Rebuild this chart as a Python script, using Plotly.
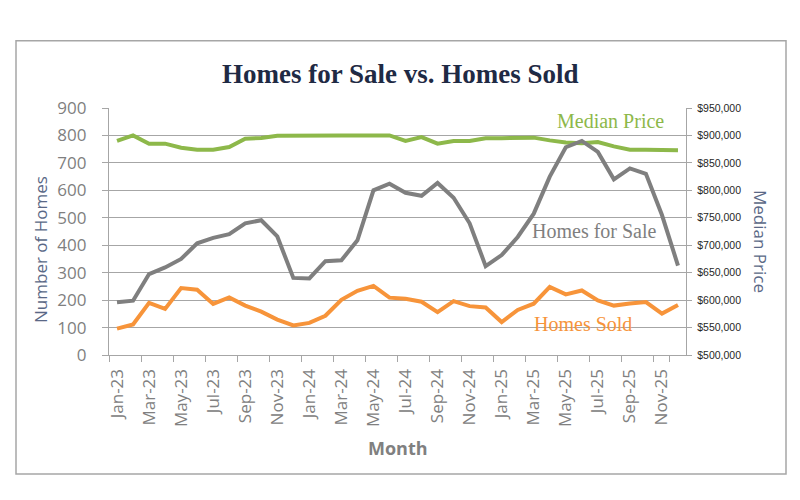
import plotly.graph_objects as go

months = [f"{m}-{y}" for y in ["23", "24", "25"] for m in
          ["Jan", "Feb", "Mar", "Apr", "May", "Jun", "Jul", "Aug", "Sep", "Oct", "Nov", "Dec"]]

homes_for_sale = [192, 198, 295, 319, 350, 407, 427, 440, 480, 491, 432, 281,
                  279, 342, 345, 418, 600, 624, 591, 580, 627, 573, 480, 324,
                  364, 430, 515, 650, 757, 780, 740, 640, 680, 660, 510, 326]

homes_sold = [96, 111, 190, 168, 244, 238, 186, 210, 180, 158, 129, 108,
              117, 143, 201, 234, 252, 209, 205, 194, 156, 196, 178, 173,
              120, 164, 187, 248, 221, 235, 199, 180, 188, 193, 151, 182]

median_price = [890000, 900000, 885000, 885000, 877500, 874000, 874000, 879000, 894000, 895500, 899500, 900000,
                900000, 900000, 900000, 900000, 900000, 900000, 890000, 897000, 885000, 890000, 890000, 895000,
                895000, 895000, 896000, 891000, 887000, 886000, 888000, 880000, 874000, 874000, 874000, 873000]

tick_labels = months[::2]

GREEN = "#8DB84A"
GRAY = "#7F7F7F"
ORANGE = "#F7943A"
AXIS = "#A6A6A6"
SLATE = "#5A6886"

fig = go.Figure()
fig.add_trace(go.Scatter(x=months, y=median_price, mode="lines", name="Median Price",
                         line=dict(color=GREEN, width=4), yaxis="y"))
fig.add_trace(go.Scatter(x=months, y=homes_for_sale, mode="lines", name="Homes for Sale",
                         line=dict(color=GRAY, width=4), yaxis="y2"))
fig.add_trace(go.Scatter(x=months, y=homes_sold, mode="lines", name="Homes Sold",
                         line=dict(color=ORANGE, width=4), yaxis="y2"))

OFF = 8  # page body margin
L, R, T, B = 109, 686, 107.5, 355.5
W, H = R - L, B - T


def px(x):
    return (x - L) / W


def py(y):
    return (B - y) / H


def ann(text, x, y, size, color, family="Liberation Serif", angle=0):
    return dict(text=text, xref="paper", yref="paper", x=px(x), y=py(y),
                xanchor="center", yanchor="middle", showarrow=False, textangle=angle,
                font=dict(family=family, size=size, color=color))


fig.update_layout(
    width=800 - OFF, height=500 - OFF, autosize=False,
    margin=dict(l=L - OFF, r=800 - R, t=T - OFF, b=500 - B, pad=0),
    paper_bgcolor="white", plot_bgcolor="white",
    showlegend=False,
    xaxis=dict(
        type="category", categoryorder="array", categoryarray=months,
        range=[-0.5, len(months) - 0.5],
        tickmode="array", tickvals=tick_labels, ticktext=tick_labels,
        tickson="boundaries", ticks="outside", ticklen=6, tickcolor=AXIS, tickwidth=1.3,
        tickangle=-90, tickfont=dict(family="Open Sans", size=17, color="#808080"),
        ticklabelstandoff=6,
        showline=True, linecolor=AXIS, linewidth=1.3, showgrid=False, zeroline=False,
    ),
    yaxis=dict(
        side="right", range=[500000, 950000], dtick=50000, tickformat="$,.0f",
        ticks="outside", ticklen=5, tickcolor=AXIS, tickwidth=1.3,
        tickfont=dict(family="Liberation Sans", size=10.5, color="#262626"),
        ticklabelstandoff=3,
        showline=True, linecolor=AXIS, linewidth=1.3, showgrid=False, zeroline=False,
    ),
    yaxis2=dict(
        overlaying="y", side="left", range=[0, 900], dtick=100,
        ticks="outside", ticklen=6, tickcolor=AXIS, tickwidth=1.3,
        tickfont=dict(family="Open Sans", size=17, color="#7F7F7F"),
        ticklabelstandoff=12,
        showline=True, linecolor=AXIS, linewidth=1.3,
        showgrid=True, gridcolor=AXIS, gridwidth=1.3, zeroline=False,
    ),
    shapes=[
        dict(type="rect", xref="paper", yref="paper",
             x0=px(16), x1=px(786), y0=py(475), y1=py(40),
             line=dict(color=AXIS, width=1.5), fillcolor="rgba(0,0,0,0)", layer="below"),
        dict(type="rect", xref="paper", yref="paper",
             x0=px(531), x1=px(636), y0=py(334), y1=py(316),
             line=dict(width=0), fillcolor="white", layer="between"),
        dict(type="rect", xref="paper", yref="paper",
             x0=px(529), x1=px(660), y0=py(240), y1=py(222),
             line=dict(width=0), fillcolor="white", layer="between"),
    ],
    annotations=[
        ann("<b>Homes for Sale vs. Homes Sold</b>", 400, 73, 27, "#1F2A44"),
        ann("Median Price", 610.5, 121, 20, GREEN),
        ann("Homes for Sale", 594.5, 231, 20, GRAY),
        ann("Homes Sold", 583, 324, 20, ORANGE),
        ann("<b>Month</b>", 398, 449, 18, "#808080", family="Open Sans"),
        ann("Number of Homes", 41, 250, 17, SLATE, family="Open Sans", angle=-90),
        ann("Median Price", 760, 241, 17, SLATE, family="Open Sans", angle=90),
    ],
)

fig.write_html("out.html")
